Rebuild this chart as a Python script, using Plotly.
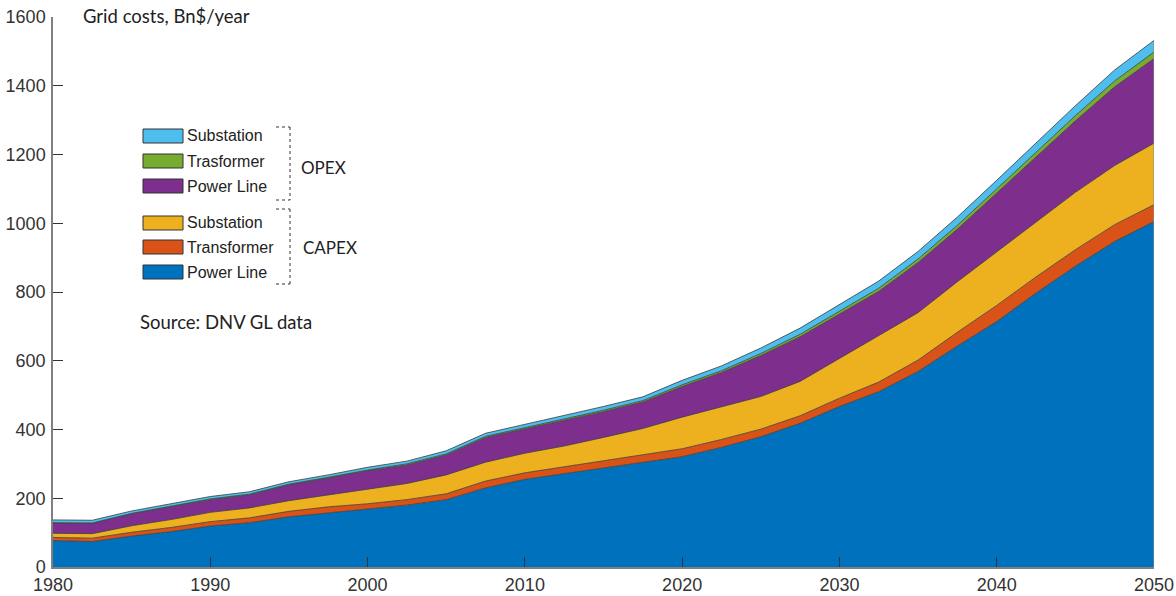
import plotly.graph_objects as go

# ---- data (Bn$/year) ----
years = [1980, 1982.5, 1985, 1987.5, 1990, 1992.5, 1995, 1997.5, 2000, 2002.5,
         2005, 2007.5, 2010, 2012.5, 2015, 2017.5, 2020, 2022.5, 2025, 2027.5,
         2030, 2032.5, 2035, 2037.5, 2040, 2042.5, 2045, 2047.5, 2050]

capex_power_line = [77, 74, 90, 103, 119, 129, 146, 158, 168, 180,
                    196, 230, 255, 272, 288, 305, 321, 348, 379, 418,
                    467, 510, 569, 643, 714, 797, 875, 947, 1005]
capex_transformer = [9, 10, 11, 12, 13, 14, 16, 17, 16, 16,
                     17, 20, 19, 20, 20, 21, 23, 23, 22, 22,
                     24, 28, 33, 40, 47, 47, 48, 49, 49]
capex_substation = [12, 13, 19, 23, 27, 29, 31, 35, 42, 47,
                    55, 55, 57, 60, 69, 77, 92, 95, 95, 100,
                    116, 134, 138, 147, 155, 158, 167, 172, 179]
opex_power_line = [30, 30, 35, 37, 37, 38, 46, 49, 54, 54,
                   58, 72, 71, 75, 75, 77, 89, 100, 119, 130,
                   128, 130, 146, 153, 172, 190, 208, 229, 246]
opex_transformer = [1, 1, 1, 1, 2, 2, 2, 2, 2, 3,
                    3, 3, 3, 3, 4, 4, 5, 5, 6, 7,
                    8, 9, 10, 11, 12, 14, 15, 17, 19]
opex_substation = [8, 8, 7, 7, 7, 7, 7, 7, 8, 8,
                   9, 9, 10, 10, 11, 11, 13, 14, 16, 18,
                   20, 21, 22, 24, 25, 27, 29, 32, 34]

# bottom -> top stacking order
series = [
    ("CAPEX Power Line", capex_power_line, "#0072BD"),
    ("CAPEX Transformer", capex_transformer, "#D95319"),
    ("CAPEX Substation", capex_substation, "#EDB120"),
    ("OPEX Power Line", opex_power_line, "#7E2F8E"),
    ("OPEX Trasformer", opex_transformer, "#77AC30"),
    ("OPEX Substation", opex_substation, "#4DBEEE"),
]

opex_labels = ["Substation", "Trasformer", "Power Line"]
opex_colors = ["#4DBEEE", "#77AC30", "#7E2F8E"]
capex_labels = ["Substation", "Transformer", "Power Line"]
capex_colors = ["#EDB120", "#D95319", "#0072BD"]

x_ticks = [1980, 1990, 2000, 2010, 2020, 2030, 2040, 2050]
y_ticks = [0, 200, 400, 600, 800, 1000, 1200, 1400, 1600]

# ---- figure ----
W, H = 1176, 596
ML, MR, MT, MB = 53, 22, 17, 29
PW, PH = W - ML - MR, H - MT - MB


def px(x):
    return (x - ML) / PW


def py(y):
    return (H - MB - y) / PH


fig = go.Figure()
for name, vals, col in series:
    fig.add_trace(go.Scatter(
        x=years, y=vals, name=name, mode="lines", stackgroup="one",
        line=dict(color="#3a3a3a", width=0.8), fillcolor=col,
        showlegend=False, hoverinfo="x+y+name"))

# right edge outline of the stacked area
total_last = sum(s[1][-1] for s in series)
fig.add_trace(go.Scatter(x=[years[-1], years[-1]], y=[0, total_last], mode="lines",
                         line=dict(color="#8a8a8a", width=1), showlegend=False,
                         hoverinfo="skip"))

shapes = []
annotations = []

label_font = dict(family="Liberation Sans, Arial", size=16, color="#222222")
cal_font = dict(family="Lato, Open Sans", size=17, color="#222222")
cal_font_big = dict(family="Lato, Open Sans", size=18.5, color="#222222")

rows_opex = [136, 161, 186]
rows_capex = [223, 247, 272]
for rows, labels, colors in [(rows_opex, opex_labels, opex_colors),
                             (rows_capex, capex_labels, capex_colors)]:
    for yy, lab, col in zip(rows, labels, colors):
        shapes.append(dict(type="rect", xref="paper", yref="paper",
                           x0=px(143), x1=px(183), y0=py(yy + 7), y1=py(yy - 7),
                           fillcolor=col, line=dict(color="#333333", width=1)))
        annotations.append(dict(xref="paper", yref="paper", x=px(185), y=py(yy),
                                text=lab, showarrow=False, xanchor="left",
                                yanchor="middle", font=label_font))

# dashed brackets
for top, bot in [(127, 200), (209, 284)]:
    for seg in [((276, top), (290, top)), ((290, top), (290, bot)), ((276, bot), (290, bot))]:
        (xa, ya), (xb, yb) = seg
        shapes.append(dict(type="line", xref="paper", yref="paper",
                           x0=px(xa), y0=py(ya), x1=px(xb), y1=py(yb),
                           line=dict(color="#333333", width=1, dash="dot")))

annotations.append(dict(xref="paper", yref="paper", x=px(299), y=py(167), text="OPEX",
                        showarrow=False, xanchor="left", yanchor="middle", font=cal_font))
annotations.append(dict(xref="paper", yref="paper", x=px(301), y=py(247), text="CAPEX",
                        showarrow=False, xanchor="left", yanchor="middle", font=cal_font))
annotations.append(dict(xref="paper", yref="paper", x=px(138), y=py(322),
                        text="Source: DNV GL data", showarrow=False, xanchor="left",
                        yanchor="middle", font=cal_font_big))
annotations.append(dict(xref="paper", yref="paper", x=px(81), y=py(16),
                        text="Grid costs, Bn$/year", showarrow=False, xanchor="left",
                        yanchor="middle", font=cal_font_big))

tick_font = dict(family="Liberation Sans, Arial", size=18, color="#333333")
fig.update_layout(
    width=W, height=H,
    margin=dict(l=ML, r=MR, t=MT, b=MB, pad=0, autoexpand=False),
    paper_bgcolor="white", plot_bgcolor="white",
    shapes=shapes, annotations=annotations,
    showlegend=False,
    xaxis=dict(range=[1980, 2050], tickvals=x_ticks, ticktext=[str(t) for t in x_ticks],
               ticks="inside", ticklen=10, tickcolor="#333333", tickwidth=1,
               showline=True, linecolor="#808080", linewidth=1.5, showgrid=False,
               zeroline=False, tickfont=tick_font, layer="above traces",
               automargin=False, ticklabelstandoff=1),
    yaxis=dict(range=[0, 1600], tickvals=y_ticks, ticktext=[str(t) for t in y_ticks],
               ticks="inside", ticklen=10, tickcolor="#333333", tickwidth=1,
               showline=True, linecolor="#808080", linewidth=1.5, showgrid=False,
               zeroline=False, tickfont=tick_font, layer="above traces",
               automargin=False, ticklabelstandoff=2),
)

fig.write_html("out.html",
               config={"displayModeBar": False},
               post_script="document.body.style.margin='0';document.body.style.overflow='hidden';")
